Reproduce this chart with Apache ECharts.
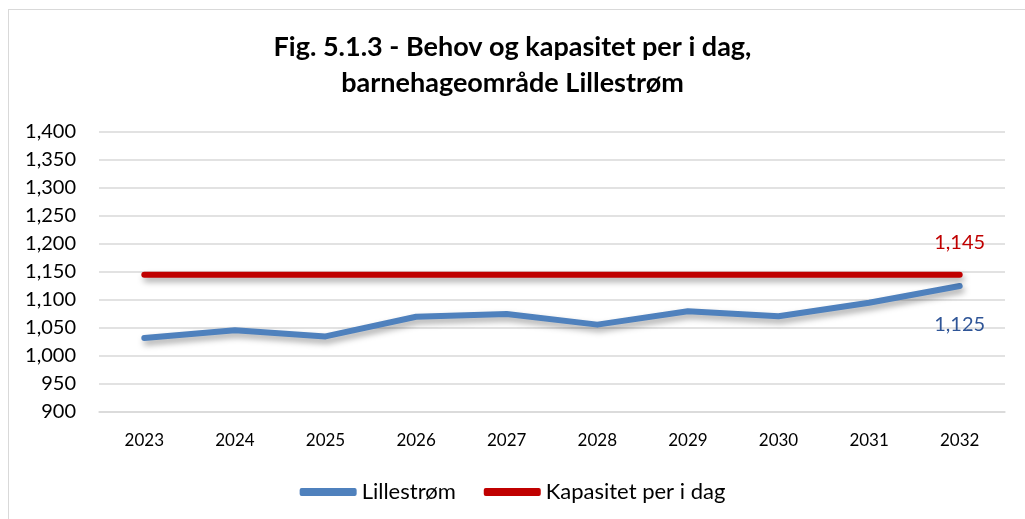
<!DOCTYPE html>
<html><head><meta charset="utf-8">
<script src="https://cdn.jsdelivr.net/npm/echarts@6/dist/echarts.min.js"></script>
<style>
html,body{margin:0;padding:0;background:#fff;}
#frame{position:absolute;left:8px;top:9px;width:1030px;height:520px;border:1px solid #d9d9d9;box-sizing:border-box;}
#c{position:absolute;left:0;top:0;width:1025px;height:519px;}
</style></head>
<body>
<div id="frame"></div>
<div id="c"></div>
<script>
const categories = ['2023','2024','2025','2026','2027','2028','2029','2030','2031','2032'];
const lillestrom = [1032, 1046, 1035, 1070, 1075, 1056, 1080, 1071, 1095, 1125];
const kapasitet = [1145, 1145, 1145, 1145, 1145, 1145, 1145, 1145, 1145, 1145];
const seriesNames = ['Lillestrøm', 'Kapasitet per i dag'];
const titleText = 'Fig. 5.1.3 - Behov og kapasitet per i dag,\nbarnehageområde Lillestrøm';

const font = 'Lato, "Open Sans", sans-serif';
const chart = echarts.init(document.getElementById('c'));
const lastLabel = (color, pos, dist) => ({
  show: true, position: pos, distance: dist, color: color, fontSize: 20, fontFamily: font,
  formatter: p => p.dataIndex === categories.length - 1 ? p.value.toLocaleString('en-US') : ''
});
const mk = (name, data, color, labelColor, pos, dist) => ({
  name: name, type: 'line', data: data,
  symbol: 'circle', symbolSize: 0.1, showSymbol: true,
  color: color, itemStyle: { color: color },
  lineStyle: { width: 6, cap: 'round', join: 'round', color: color,
    shadowColor: 'rgba(0,0,0,0.35)', shadowBlur: 6, shadowOffsetY: 4, shadowOffsetX: 2 },
  label: lastLabel(labelColor, pos, dist)
});
chart.setOption({
  animation: false,
  title: {
    text: titleText, left: 'center', top: 24,
    textStyle: { fontFamily: font, fontSize: 27, fontWeight: 'bold', color: '#000', lineHeight: 36 }
  },
  grid: { left: 99, right: 20, top: 132, bottom: 107 },
  legend: {
    bottom: 11, left: 'center', itemWidth: 57, itemHeight: 8, itemGap: 28,
    textStyle: { fontFamily: font, fontSize: 22, color: '#000' },
    data: seriesNames.map(n => ({ name: n, icon: 'roundRect' }))
  },
  xAxis: {
    type: 'category', data: categories, boundaryGap: true,
    axisLine: { lineStyle: { color: '#d9d9d9', width: 1.5 } },
    axisTick: { show: false },
    axisLabel: { fontFamily: font, fontSize: 17, color: '#000', margin: 20 }
  },
  yAxis: {
    type: 'value', min: 900, max: 1400, interval: 50,
    axisLine: { show: false }, axisTick: { show: false },
    splitLine: { lineStyle: { color: '#d9d9d9', width: 1.5 } },
    axisLabel: { fontFamily: font, fontSize: 20, color: '#000', margin: 23,
      formatter: v => v.toLocaleString('en-US') }
  },
  series: [
    mk(seriesNames[0], lillestrom, '#4f81bd', '#2f5597', 'bottom', 28),
    mk(seriesNames[1], kapasitet, '#c00000', '#c00000', 'top', 22)
  ]
});
</script>
</body></html>
